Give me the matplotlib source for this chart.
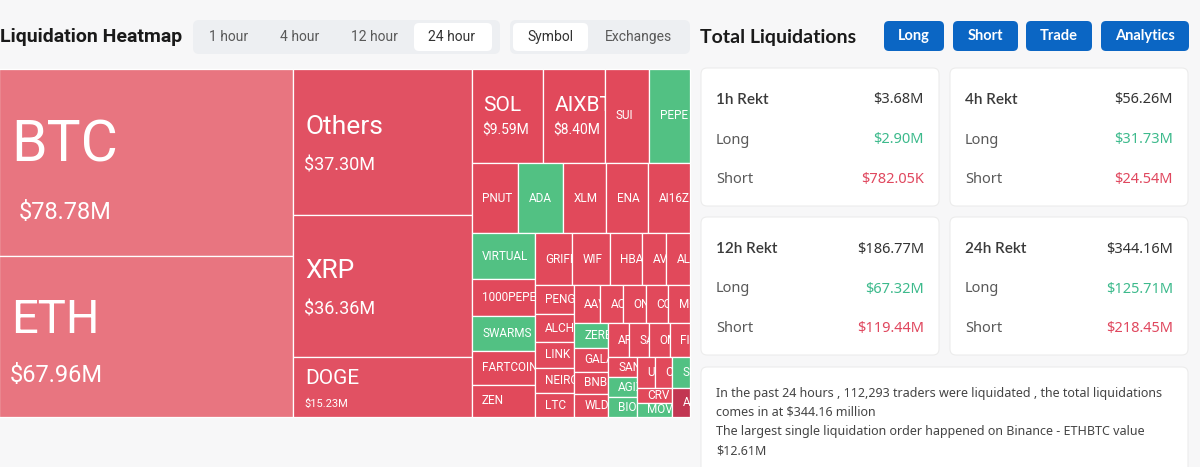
import matplotlib
matplotlib.use('Agg')
from matplotlib import pyplot as plt
from matplotlib.patches import Rectangle, FancyBboxPatch

# liquidations per coin, 24h, million USD (only the big ones are printed on the map)
coins = ['BTC', 'ETH',
         'Others', 'XRP', 'DOGE',
         'SOL', 'AIXBT', 'SUI', 'PEPE',
         'PNUT', 'ADA', 'XLM', 'ENA', 'AI16Z',
         'VIRTUAL', '1000PEPE', 'SWARMS', 'FARTCOIN', 'ZEN',
         'GRIFFAIN', 'WIF', 'HBAR', 'AVAX', 'ALGO',
         'PENGU', 'ALCH', 'LINK', 'NEIRO', 'LTC',
         'AAVE', 'ACT', 'ONDO', 'COOKIE', 'MOODENG',
         'ZEREBRO', 'GALA', 'BNB', 'WLD',
         'ARC', 'SAGA', 'OM', 'FIL',
         'SAND', 'AGIX', 'BIO',
         'UNI', 'CGPT', 'S',
         'CRV', 'MOVE',
         'ARB']
liq_musd = [78.78, 67.96,
            37.30, 36.36, 15.23,
            9.59, 8.40, 5.93, 5.50,
            4.72, 4.52, 4.30, 4.25, 4.20,
            4.15, 3.35, 3.10, 3.10, 2.90,
            2.83, 2.80, 2.40, 1.80, 1.78,
            1.62, 1.57, 1.45, 1.42, 1.34,
            1.45, 1.25, 1.24, 1.20, 1.20,
            1.18, 1.17, 1.12, 1.10,
            1.00, 0.99, 0.98, 0.97,
            0.84, 0.83, 0.82,
            0.80, 0.79, 0.78,
            0.76, 0.72,
            0.74]
# how many coins go in each strip of the treemap
strip_sizes = [2, 3, 4, 5, 5, 5, 5, 5, 4, 4, 3, 3, 2, 1]
# coins where longs were the bigger part (drawn green)
long_heavy = ['PEPE', 'ADA', 'VIRTUAL', 'SWARMS', 'ZEREBRO', 'AGIX', 'BIO', 'S', 'MOVE']

time_tabs = ['1 hour', '4 hour', '12 hour', '24 hour']
view_tabs = ['Symbol', 'Exchanges']
buttons = ['Long', 'Short', 'Trade', 'Analytics']

periods = ['1h', '4h', '12h', '24h']
rekt_total = [3.68, 56.26, 186.77, 344.16]
rekt_long = [2.90, 31.73, 67.32, 125.71]
rekt_short = [0.78205, 24.54, 119.44, 218.45]

summary = ['In the past 24 hours , 112,293 traders were liquidated , the total liquidations',
           'comes in at $344.16 million',
           'The largest single liquidation order happened on Binance - ETHBTC value',
           '$12.61M']

BG = '#F7F7F8'
RED = '#E1495B'
GREEN = '#52C183'
BLUE = '#0B66C4'
TXT = '#333333'
GREY = '#595959'
VAL_GREEN = '#3DBA8C'
VAL_RED = '#E0485F'
tile_shade = {'BTC': '#E87580', 'ETH': '#E87580', 'Others': '#E15163', 'XRP': '#E15163',
              'DOGE': '#E15163', 'ARB': '#C23652'}
# tiles that also show the amount: name size, value size, name dy, value dy, value dx
big_labels = {'BTC': (41, 17, -16, 50, 20), 'ETH': (34, 17, -16, 39, 11),
              'Others': (19, 13, -15, 23, 11), 'XRP': (19, 13, -15, 23.5, 11),
              'DOGE': (15, 8, -8.5, 16.5, 11), 'SOL': (15, 10, -10, 15, 11),
              'AIXBT': (15, 10, -10, 15, 11)}

LEFT_FONT = ['Roboto', 'DejaVu Sans']
RIGHT_FONT = ['Noto Sans', 'DejaVu Sans']
BOLD_FONT = ['Lato', 'DejaVu Sans']


def squarish_layout(values, sizes, x, y, w, h):
    rects = []
    total = sum(values)
    i = 0
    for n in sizes:
        chunk = values[i:i + n]
        s = sum(chunk)
        if w >= h:
            cw = w * s / total
            yy = y
            for v in chunk:
                ch = h * v / s
                rects.append((x, yy, cw, ch))
                yy += ch
            x += cw
            w -= cw
        else:
            rh = h * s / total
            xx = x
            for v in chunk:
                rw = w * v / s
                rects.append((xx, y, rw, rh))
                xx += rw
            y += rh
            h -= rh
        total -= s
        i += n
    return rects


def fmt_money(v):
    if v < 1:
        return f'${v * 1000:.2f}K'
    return f'${v:.2f}M'


def rbox(ax, x, y, w, h, fc, r=6, ec='none', lw=0, z=1):
    ax.add_patch(FancyBboxPatch((x, y), w, h, boxstyle=f'round,pad=0,rounding_size={r}',
                                fc=fc, ec=ec, lw=lw, zorder=z))


def plot_liquidations():
    fig = plt.figure(figsize=(12, 4.67), dpi=100)
    fig.patch.set_facecolor(BG)
    ax = fig.add_axes([0, 0, 1, 1])
    ax.set_xlim(0, 1200)
    ax.set_ylim(467, 0)
    ax.axis('off')

    # ---- left header
    ax.text(0, 37, 'Liquidation Heatmap', fontsize=14, fontweight='bold', family=LEFT_FONT,
            color='#1A1A1A', va='center', ha='left')
    rbox(ax, 193, 20, 307, 34, '#EDEFF2')
    rbox(ax, 414, 23, 78, 28, 'white', r=5, z=2)
    for label, cx in zip(time_tabs, [229, 300, 374, 452]):
        ax.text(cx, 37, label, fontsize=10, family=LEFT_FONT, color=GREY if cx < 400 else TXT,
                ha='center', va='center', zorder=3)
    rbox(ax, 510, 20, 180, 34, '#EDEFF2')
    rbox(ax, 513, 23, 75, 28, 'white', r=5, z=2)
    for label, cx in zip(view_tabs, [550, 638]):
        ax.text(cx, 37, label, fontsize=10, family=LEFT_FONT, color=TXT if cx < 600 else GREY,
                ha='center', va='center', zorder=3)

    # ---- heatmap
    rects = squarish_layout(liq_musd, strip_sizes, -1, 69, 691, 348)
    for name, v, (x, y, w, h) in zip(coins, liq_musd, rects):
        if name in tile_shade:
            fc = tile_shade[name]
        elif name in long_heavy:
            fc = GREEN
        else:
            fc = RED
        tile = Rectangle((x, y), w, h, fc=fc, ec='white', lw=0.9, zorder=2)
        ax.add_patch(tile)
        cy = y + h / 2
        if name in big_labels:
            ns, vs, ndy, vdy, vdx = big_labels[name]
            t1 = ax.text(x + 12, cy + ndy, name, fontsize=ns, family=LEFT_FONT,
                         color='white', ha='left', va='center', zorder=3, clip_on=True)
            t2 = ax.text(x + vdx, cy + vdy, fmt_money(v), fontsize=vs, family=LEFT_FONT,
                         color='white', ha='left', va='center', zorder=3, clip_on=True)
            texts = [t1, t2]
        else:
            texts = [ax.text(x + 10.5, cy, name, fontsize=8.5, family=LEFT_FONT, color='white',
                             ha='left', va='center', zorder=3, clip_on=True)]
        for t in texts:
            t.set_clip_path(tile)

    # ---- right header
    ax.text(700, 37, 'Total Liquidations', fontsize=14, fontweight='bold',
            family=BOLD_FONT, color='#1A1A1A', ha='left', va='center')
    btn_x = [884, 953, 1026, 1101]
    btn_w = [60, 65, 66, 88]
    for label, bx, bw in zip(buttons, btn_x, btn_w):
        rbox(ax, bx, 21, bw, 30, BLUE, r=5)
        ax.text(bx + bw / 2, 36, label, fontsize=10.5, fontweight='bold', family=BOLD_FONT,
                color='white', ha='center', va='center', zorder=3)

    # ---- rekt cards
    card_pos = [(701, 68), (950, 68), (701, 217), (950, 217)]
    for (cx, cy), p, tot, lg, sh in zip(card_pos, periods, rekt_total, rekt_long, rekt_short):
        rbox(ax, cx, cy, 238, 138, 'white', r=6, ec='#ECECEC', lw=0.8)
        ax.text(cx + 15, cy + 32, f'{p} Rekt', fontsize=11, fontweight=600, family=BOLD_FONT,
                color='#3A3A3A', ha='left', va='center', zorder=3)
        ax.text(cx + 223, cy + 32, fmt_money(tot), fontsize=10.5, family=RIGHT_FONT, color=TXT,
                ha='right', va='center', zorder=3)
        rows = [('Long', fmt_money(lg), VAL_GREEN), ('Short', fmt_money(sh), VAL_RED)]
        for k, (lab, val, vc) in enumerate(rows):
            yy = cy + 72 + 39.5 * k
            ax.text(cx + 15, yy, lab, fontsize=10.5, family=RIGHT_FONT, color=GREY,
                    ha='left', va='center', zorder=3)
            ax.text(cx + 223, yy, val, fontsize=10.5, family=RIGHT_FONT, color=vc,
                    ha='right', va='center', zorder=3)

    # ---- summary box
    rbox(ax, 701, 367, 487, 120, 'white', r=6, ec='#ECECEC', lw=0.8)
    for k, line in enumerate(summary):
        ax.text(716, 393 + 19.3 * k, line, fontsize=9, family=RIGHT_FONT, color='#444444',
                ha='left', va='center', zorder=3)

    fig.savefig('out.png', dpi=100, facecolor=fig.get_facecolor())


if __name__ == '__main__':
    plot_liquidations()
